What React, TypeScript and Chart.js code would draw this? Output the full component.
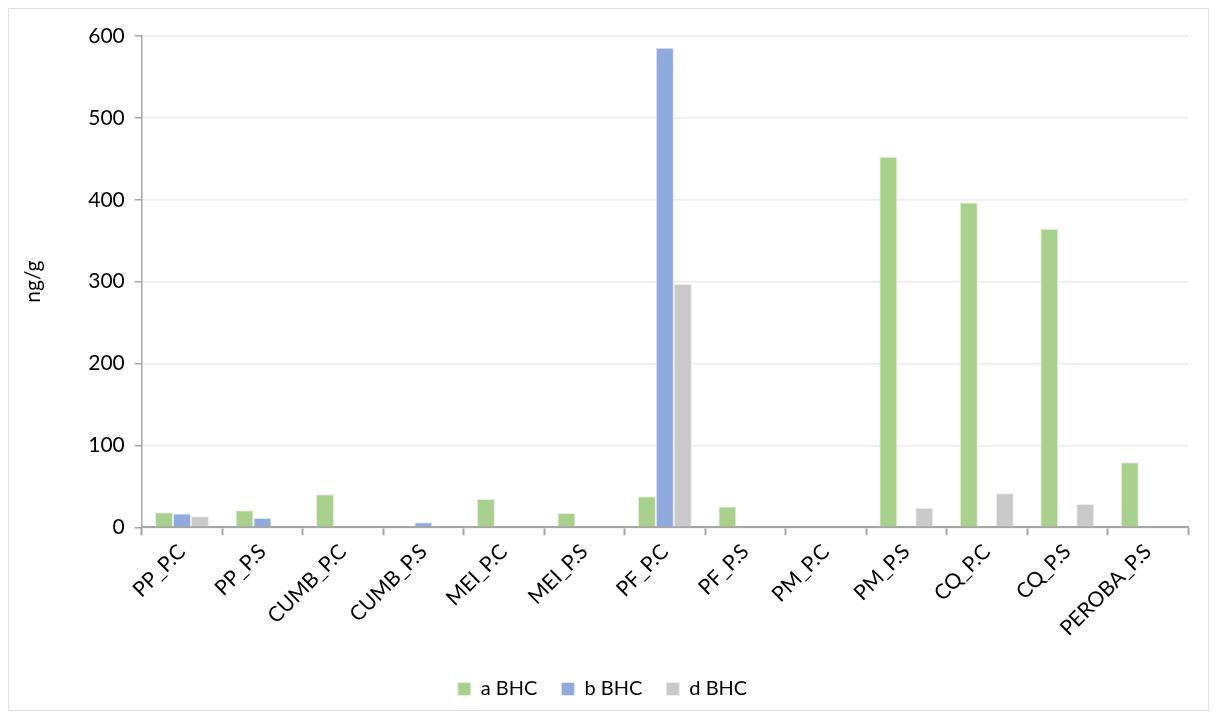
import React, { useEffect, useRef } from "react";
import { Chart, registerables } from "chart.js";

Chart.register(...registerables);

const categories = [
  "PP_P.C", "PP_P.S", "CUMB_P.C", "CUMB_P.S", "MEI_P.C", "MEI_P.S", "PF_P.C",
  "PF_P.S", "PM_P.C", "PM_P.S", "CQ_P.C", "CQ_P.S", "PEROBA_P.S",
];

const aBHC = [18.3, 20.8, 40.3, 0, 34.6, 17.5, 37.9, 25.3, 0, 452.5, 396.8, 364.5, 79.4];
const bBHC = [16.7, 11.4, 0, 6.1, 0, 0, 585.7, 0, 0, 0, 0, 0, 0];
const dBHC = [13.4, 0, 0, 0, 0, 0, 297, 0, 0, 24, 41.5, 28.5, 0];

const yTicks = [0, 100, 200, 300, 400, 500, 600];

const FONT = "Lato, 'Open Sans', 'Noto Sans', sans-serif";

export default function App() {
  const canvasRef = useRef<HTMLCanvasElement | null>(null);

  useEffect(() => {
    if (!canvasRef.current) return;
    const chart = new Chart(canvasRef.current, {
      type: "bar",
      data: {
        labels: categories,
        datasets: [
          { label: "a BHC", data: aBHC, backgroundColor: "#a9d18e", borderColor: "#e4f1db", borderWidth: 1 },
          { label: "b BHC", data: bBHC, backgroundColor: "#8faadc", borderColor: "#dde6f5", borderWidth: 1 },
          { label: "d BHC", data: dBHC, backgroundColor: "#c9c9c9", borderColor: "#ececec", borderWidth: 1 },
        ],
      },
      options: {
        animation: false,
        responsive: false,
        maintainAspectRatio: false,
        layout: { padding: { top: 27, right: 20, left: 8, bottom: 1 } },
        datasets: { bar: { categoryPercentage: 0.67, barPercentage: 1 } },
        plugins: {
          legend: {
            position: "bottom",
            labels: {
              font: { family: FONT, size: 20 },
              color: "#000",
              boxWidth: 13,
              boxHeight: 13,
              padding: 24,
            },
          },
          tooltip: { enabled: false },
        },
        scales: {
          x: {
            offset: true,
            afterFit: (axis: any) => {
              axis.height += 10;
            },
            grid: {
              offset: true,
              drawOnChartArea: false,
              drawTicks: true,
              tickLength: 8,
              tickColor: "#a6a6a6",
              tickWidth: 2,
            },
            border: { display: true, color: "#a6a6a6", width: 2 },
            ticks: {
              font: { family: FONT, size: 21 },
              color: "#000",
              maxRotation: 45,
              minRotation: 45,
              padding: 4,
            },
          },
          y: {
            min: 0,
            max: 600,
            afterBuildTicks: (axis: any) => {
              axis.ticks = yTicks.map((v) => ({ value: v }));
            },
            grid: {
              color: "#ececec",
              lineWidth: 1.5,
              tickLength: 7,
              tickColor: "#a6a6a6",
            },
            border: { display: true, color: "#a6a6a6", width: 1.5 },
            ticks: {
              font: { family: FONT, size: 21 },
              color: "#000",
              padding: 10,
            },
            title: {
              display: true,
              text: "ng/g",
              font: { family: FONT, size: 21 },
              color: "#000",
              padding: { bottom: 32 },
            },
          },
        },
      },
    });
    return () => chart.destroy();
  }, []);

  return (
    <div style={{ width: 1199, height: 701, border: "1px solid #e2e2e2", background: "#fff" }}>
      <canvas ref={canvasRef} width={1199} height={701} style={{ display: "block" }} />
    </div>
  );
}
